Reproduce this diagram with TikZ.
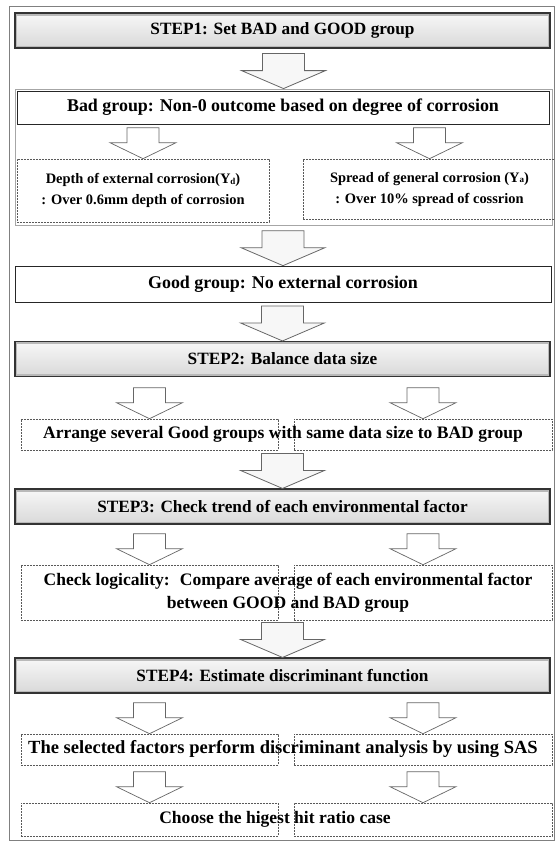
\documentclass[tikz,border=0pt]{standalone}
\usepackage{fontspec}
\setmainfont{Liberation Serif}
\usetikzlibrary{calc}

\tikzset{
  stepbox/.style={draw=black!80, line width=1.1bp, top color=gray!6, bottom color=gray!30,
    minimum width=535bp, minimum height=35bp, inner sep=0pt,
    font=\fontsize{17.3}{20}\selectfont\bfseries,
    path picture={\draw[gray!55, line width=5bp] (path picture bounding box.south west) rectangle (path picture bounding box.north east);}},
  linebox/.style={draw=black!85, line width=0.7bp, inner sep=0pt, font=\fontsize{18}{20}\selectfont\bfseries},
  dashbox/.style={draw=black!65, line width=0.6bp, dash pattern=on 2bp off 1bp, inner sep=0pt},
  boxtext/.style={inner sep=0pt, align=center, font=\fontsize{17.6}{23}\selectfont\bfseries},
  bigarrow/.style={draw=black!60, line width=0.8bp, fill=gray!6},
  smallarrow/.style={draw=black!60, line width=0.7bp, fill=white},
  bigarr/.pic={\draw[bigarrow] (-21,-35) -- (21,-35) -- (21,-18) -- (42,-18) -- (0,0) -- (-42,-18) -- (-21,-18) -- cycle;},
  smallarr/.pic={\draw[smallarrow] (-16,-31) -- (16,-31) -- (16,-16) -- (33,-16) -- (0,0) -- (-33,-16) -- (-16,-16) -- cycle;}
}

\begin{document}
\begin{tikzpicture}[x=1bp, y=-1bp]
  \useasboundingbox (0,0) rectangle (555,843);
  \draw[black!50, line width=0.8bp] (9,6) rectangle (554,840);

  % step 1
  \node[stepbox] (s1) at (282.5,30.5) {STEP1: Set BAD and GOOD group};
  \node[draw=gray!70, line width=0.8bp, minimum width=537bp, minimum height=136bp, inner sep=0pt] (badgrp) at (283.5,157) {};
  \node[linebox, minimum width=532bp, minimum height=33bp] (bad) at (283,107.5) {Bad group: Non-0 outcome based on degree of corrosion};
  \node[dashbox, minimum width=252bp, minimum height=63bp, align=center, font=\fontsize{14.5}{21}\selectfont\bfseries] (depth) at (143,190.5)
    {Depth of external corrosion(Y\raisebox{-0.5bp}{\fontsize{9}{9}\selectfont d})\\: Over 0.6mm depth of corrosion};
  \node[dashbox, minimum width=253bp, minimum height=60bp, align=center, font=\fontsize{14.5}{21}\selectfont\bfseries] (spread) at (429.5,189)
    {Spread of general corrosion (Y\raisebox{-0.5bp}{\fontsize{9}{9}\selectfont a})\\: Over 10\% spread of cossrion};
  \node[linebox, minimum width=536bp, minimum height=36bp] (good) at (283,284) {Good group: No external corrosion};

  % step 2
  \node[stepbox] (s2) at (282.5,359) {STEP2: Balance data size};
  \node[dashbox, minimum width=257bp, minimum height=31bp] (b2l) at (149.5,434.5) {};
  \node[dashbox, minimum width=258bp, minimum height=31bp] (b2r) at (423,434.5) {};
  \node[boxtext] (t2) at (283,434.5) {Arrange several Good groups with same data size to BAD group};

  % step 3
  \node[stepbox] (s3) at (282.5,506.5) {STEP3: Check trend of each environmental factor};
  \node[dashbox, minimum width=257bp, minimum height=55bp] (b3l) at (149.5,592.5) {};
  \node[dashbox, minimum width=258bp, minimum height=55bp] (b3r) at (423,592.5) {};
  \node[boxtext] (t3) at (288,592.5) {Check logicality:~ Compare average of each environmental factor\\between GOOD and BAD group};

  % step 4
  \node[stepbox] (s4) at (282.5,675.5) {STEP4: Estimate discriminant function};
  \node[dashbox, minimum width=257bp, minimum height=31bp] (b4l) at (149.5,749.5) {};
  \node[dashbox, minimum width=258bp, minimum height=31bp] (b4r) at (423,749.5) {};
  \node[boxtext, font=\fontsize{18.6}{23}\selectfont\bfseries] (t4) at (283,749.5) {The selected factors perform discriminant analysis by using SAS};
  \node[dashbox, minimum width=257bp, minimum height=33bp] (b5l) at (149.5,819.5) {};
  \node[dashbox, minimum width=258bp, minimum height=33bp] (b5r) at (423,819.5) {};
  \node[boxtext] (t5) at (275,819.5) {Choose the higest hit ratio case};

  % block arrows, tip on the box below
  \foreach \n in {badgrp, good, s2, s3, s4}
    \pic at (\n.north) {bigarr};
  \foreach \n in {depth, spread, b2l, b2r, b3l, b3r, b4l, b4r, b5l, b5r}
    \pic at (\n.north) {smallarr};
\end{tikzpicture}
\end{document}
